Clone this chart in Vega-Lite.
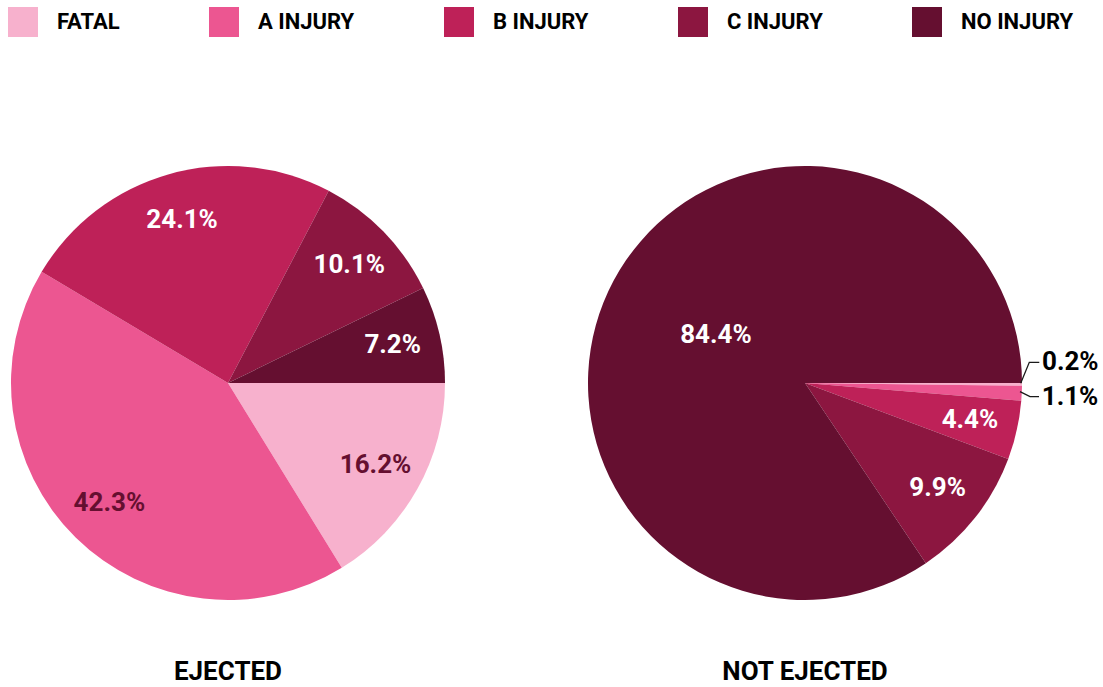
{
  "$schema": "https://vega.github.io/schema/vega-lite/v6.json",
  "padding": {"left": 8, "top": 7, "right": 0, "bottom": 0},
  "background": "white",
  "bounds": "flush",
  "data": {"values": [
    {"group": "EJECTED", "cat": "FATAL", "i": 1, "v": 16.2, "label": "16.2%"},
    {"group": "EJECTED", "cat": "A INJURY", "i": 2, "v": 42.3, "label": "42.3%"},
    {"group": "EJECTED", "cat": "B INJURY", "i": 3, "v": 24.1, "label": "24.1%"},
    {"group": "EJECTED", "cat": "C INJURY", "i": 4, "v": 10.1, "label": "10.1%"},
    {"group": "EJECTED", "cat": "NO INJURY", "i": 5, "v": 7.2, "label": "7.2%"},
    {"group": "NOT EJECTED", "cat": "FATAL", "i": 1, "v": 0.2, "label": "0.2%"},
    {"group": "NOT EJECTED", "cat": "A INJURY", "i": 2, "v": 1.1, "label": "1.1%"},
    {"group": "NOT EJECTED", "cat": "B INJURY", "i": 3, "v": 4.4, "label": "4.4%"},
    {"group": "NOT EJECTED", "cat": "C INJURY", "i": 4, "v": 9.9, "label": "9.9%"},
    {"group": "NOT EJECTED", "cat": "NO INJURY", "i": 5, "v": 84.4, "label": "84.4%"}
  ]},
  "facet": {
    "column": {
      "field": "group",
      "type": "nominal",
      "sort": ["EJECTED", "NOT EJECTED"],
      "header": {
        "title": null,
        "labelOrient": "bottom",
        "labelFont": "Roboto",
        "labelFontWeight": "bold",
        "labelFontSize": 26,
        "labelColor": "#000000",
        "labelPadding": 80,
        "labelBaseline": "alphabetic"
      }
    }
  },
  "spacing": 137,
  "spec": {
    "width": 440,
    "height": 434,
    "layer": [
      {
        "mark": {"type": "arc", "outerRadius": 217, "stroke": null},
        "encoding": {
          "theta": {"field": "v", "type": "quantitative", "stack": "normalize", "scale": {"range": [1.5707963, 7.8539816]}},
          "order": {"field": "i", "type": "quantitative"},
          "color": {
            "field": "cat",
            "type": "nominal",
            "sort": ["FATAL", "A INJURY", "B INJURY", "C INJURY", "NO INJURY"],
            "scale": {
              "domain": ["FATAL", "A INJURY", "B INJURY", "C INJURY", "NO INJURY"],
              "range": ["#F7B1CD", "#EC5691", "#BE2158", "#8C1640", "#650F30"]
            },
            "legend": {
              "orient": "top",
              "direction": "horizontal",
              "title": null,
              "symbolType": "square",
              "symbolSize": 900,
              "symbolStrokeWidth": 0,
              "symbolOpacity": 1,
              "labelFont": "Roboto",
              "labelFontWeight": "bold",
              "labelFontSize": 22,
              "labelColor": "#000000",
              "labelOffset": 19,
              "columnPadding": 89,
              "offset": 82,
              "padding": 0
            }
          }
        }
      },
      {
        "mark": {"type": "text", "radius": 169, "fontSize": 26, "fontWeight": "bold", "font": "Roboto", "baseline": "middle", "align": "center"},
        "encoding": {
          "theta": {"field": "v", "type": "quantitative", "stack": "normalize", "scale": {"range": [1.5707963, 7.8539816]}},
          "order": {"field": "i", "type": "quantitative"},
          "text": {"condition": {"test": "datum.v >= 4 && datum.v < 50", "field": "label"}, "value": ""},
          "color": {"condition": {"test": "datum.cat == 'FATAL' || datum.cat == 'A INJURY'", "value": "#650F30"}, "value": "#FFFFFF"}
        }
      },
      {
        "mark": {"type": "text", "radius": 101, "fontSize": 26, "fontWeight": "bold", "font": "Roboto", "baseline": "middle", "align": "center", "color": "#FFFFFF"},
        "encoding": {
          "theta": {"field": "v", "type": "quantitative", "stack": "normalize", "scale": {"range": [1.5707963, 7.8539816]}},
          "order": {"field": "i", "type": "quantitative"},
          "text": {"condition": {"test": "datum.v >= 50", "field": "label"}, "value": ""}
        }
      },
      {
        "mark": {"type": "text", "radius": 237, "dy": -22, "fontSize": 26, "fontWeight": "bold", "font": "Roboto", "baseline": "middle", "align": "left", "color": "#000000"},
        "encoding": {
          "theta": {"field": "v", "type": "quantitative", "stack": "normalize", "scale": {"range": [1.5707963, 7.8539816]}},
          "order": {"field": "i", "type": "quantitative"},
          "text": {"condition": {"test": "datum.v < 0.5", "field": "label"}, "value": ""}
        }
      },
      {
        "mark": {"type": "text", "radius": 237, "dy": 3, "fontSize": 26, "fontWeight": "bold", "font": "Roboto", "baseline": "middle", "align": "left", "color": "#000000"},
        "encoding": {
          "theta": {"field": "v", "type": "quantitative", "stack": "normalize", "scale": {"range": [1.5707963, 7.8539816]}},
          "order": {"field": "i", "type": "quantitative"},
          "text": {"condition": {"test": "datum.v >= 0.5 && datum.v < 2", "field": "label"}, "value": ""}
        }
      },
      {
        "transform": [{"filter": "datum.group == 'NOT EJECTED' && datum.cat == 'FATAL'"}],
        "mark": {
          "type": "point",
          "filled": false,
          "shape": "M0.8628,0.0012L0.8972,-0.0828L0.9372,-0.0828M0.86,0.0348L0.9,0.0548L0.936,0.0548",
          "size": 250000,
          "stroke": "#1a1a1a",
          "strokeWidth": 1.3,
          "opacity": 1
        },
        "encoding": {}
      }
    ]
  },
  "config": {
    "view": {"stroke": null}
  }
}
